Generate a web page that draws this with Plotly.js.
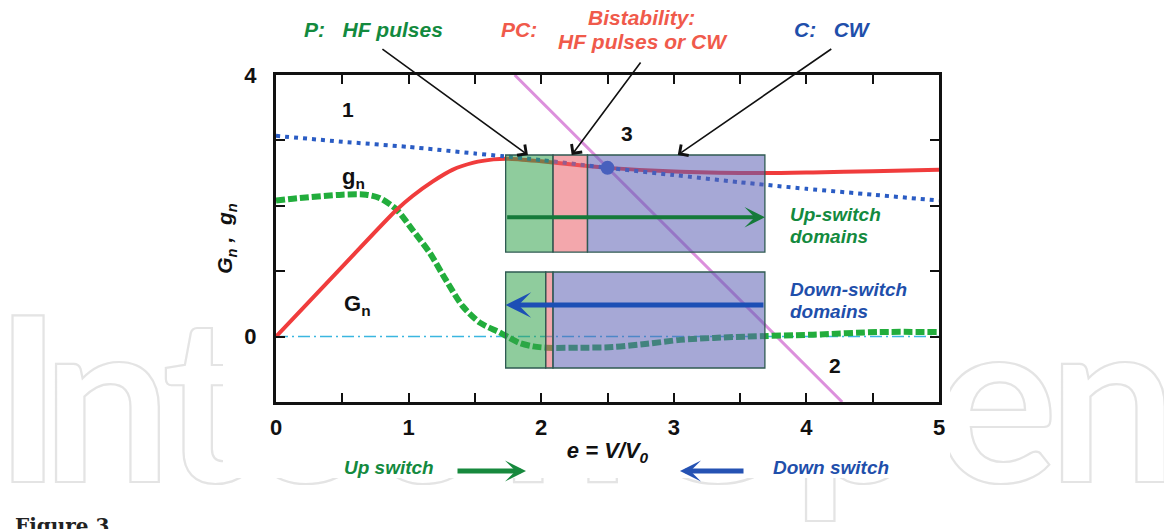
<!DOCTYPE html>
<html>
<head>
<meta charset="utf-8">
<script src="https://cdn.plot.ly/plotly-3.0.1.min.js"></script>
<style>
  html, body { margin: 0; padding: 0; background: #ffffff; overflow: hidden; }
  #wrap { position: relative; width: 1164px; height: 529px; }
  #mark { position: absolute; left: 0; top: 0; }
  #sheet { position: absolute; left: 223px; top: 0; width: 727px; height: 478px; background: #ffffff; }
  #chart { position: absolute; left: 0; top: 0; width: 1164px; height: 529px; }
</style>
</head>
<body>
<div id="wrap">
  <svg id="mark" width="1164" height="529">
    <text x="-6 42 162 240 362 500 625 792 935 1048" y="482" font-family="Lato" font-weight="700" font-size="230"
          fill="none" stroke="#e4e4e4" stroke-width="2.2">IntechOpen</text>
    <text x="15" y="533" font-family="DejaVu Serif" font-weight="700" font-size="20" fill="#222222">Figure 3</text>
  </svg>
  <div id="sheet"></div>
  <div id="chart"></div>
</div>
<script>
// Normalised voltage e = V/V0 and the two conductance curves
const gnX = [0, 0.18, 0.5, 0.68, 0.78, 0.91, 1.03, 1.16, 1.28, 1.41, 1.54, 1.69, 1.76, 1.84, 1.94, 2.04, 2.3, 2.54, 2.8, 3.05, 3.3, 3.55, 4.05, 4.55, 5.0];
const gnY = [2.08, 2.12, 2.17, 2.17, 2.12, 1.94, 1.63, 1.28, 0.87, 0.46, 0.21, 0.06, -0.02, -0.10, -0.15, -0.17, -0.17, -0.16, -0.11, -0.05, -0.02, 0.0, 0.03, 0.07, 0.07];

const GnX = [0, 0.5, 0.91, 1.03, 1.18, 1.33, 1.49, 1.64, 1.75, 2.0, 2.29, 2.5, 3.05, 3.67, 4.05, 4.5, 5.0];
const GnY = [0, 1.07, 1.94, 2.15, 2.37, 2.55, 2.66, 2.71, 2.72, 2.68, 2.62, 2.58, 2.52, 2.50, 2.51, 2.53, 2.55];

// Critical (threshold) curve, dotted blue
const critX = [0, 0.5, 1, 1.5, 1.7, 2.0, 2.5, 3.0, 3.5, 4.0, 4.5, 5.0];
const critY = [3.07, 2.98, 2.90, 2.80, 2.76, 2.70, 2.58, 2.47, 2.36, 2.26, 2.17, 2.08];

// Load line and its operating point
const loadX = [1.80, 4.27];
const loadY = [4.0, -1.0];
const opX = [2.5];
const opY = [2.58];

// Zero reference
const zeroX = [0, 5];
const zeroY = [0, 0];

// Switching domain boxes: edges along e, and vertical extent
const upEdges = [1.732, 2.089, 2.349, 3.687];     // P | PC | C
const upSpan = [1.293, 2.777];
const downEdges = [1.732, 2.034, 2.089, 3.687];   // P | PC | C
const downSpan = [-0.48, 0.988];
const upArrowY = 1.824;
const downArrowY = 0.483;

// Arrow heads pointing at the upper box top (P, PC, C)
const pointerX = [1.90, 2.23, 3.03];

// Axis ticks
const xTickVals = [0, 0.5, 1, 1.5, 2, 2.5, 3, 3.5, 4, 4.5, 5];
const xTickText = ['0', '', '1', '', '2', '', '3', '', '4', '', '5'];
const yTickVals = [-1, 0, 1, 2, 3, 4];
const yTickText = ['', '0', '', '', '', '4'];

// ---- page geometry helpers (pixel -> paper fraction) ----
const W = 1164, H = 529;
const M = { l: 276, r: 225, t: 75, b: 127 };
const PW = W - M.l - M.r, PH = H - M.t - M.b;
const PX = p => (p - M.l) / PW;
const PY = p => (H - M.b - p) / PH;

const FONT = 'Liberation Sans, Arial, sans-serif';
const GREEN_TXT = '#138a3e';
const RED_TXT = '#f05a4b';
const BLUE_TXT = '#1f4fab';

const traces = [
  { x: loadX, y: loadY, mode: 'lines', line: { color: '#dc90dc', width: 3 }, hoverinfo: 'skip' },
  { x: zeroX, y: zeroY, mode: 'lines', line: { color: '#3bb6e0', width: 1.5, dash: '12px,4px,2px,4px' }, hoverinfo: 'skip' },
  { x: gnX, y: gnY, mode: 'lines', line: { color: '#22ad3c', width: 6, dash: '9px,3px', shape: 'spline', smoothing: 0.8 } },
  { x: GnX, y: GnY, mode: 'lines', line: { color: '#f03c3c', width: 4, shape: 'spline', smoothing: 0.8 } },
  { x: critX, y: critY, mode: 'lines', line: { color: '#2a5cc4', width: 4, dash: '4px,5px', shape: 'spline', smoothing: 0.6 } },
  { x: opX, y: opY, mode: 'markers', marker: { color: '#2f5fc8', size: 14 } }
];

// Box segments: green (pulses), pink (bistable), blue (CW)
const fills = ['rgba(51,162,77,0.55)', 'rgba(233,95,104,0.55)', 'rgba(93,97,180,0.55)'];
const shapes = [];
function addBox(edges, span) {
  for (let i = 0; i < 3; i++) {
    shapes.push({
      type: 'rect', xref: 'x', yref: 'y', layer: 'above',
      x0: edges[i], x1: edges[i + 1], y0: span[0], y1: span[1],
      fillcolor: fills[i], line: { color: '#2f5a52', width: 1.3 }
    });
  }
}
addBox(upEdges, upSpan);
addBox(downEdges, downSpan);

const ann = [];
function label(text, xp, yp, opts) {
  ann.push(Object.assign({
    text: text, xref: 'paper', yref: 'paper', x: PX(xp), y: PY(yp),
    xanchor: 'center', yanchor: 'middle', showarrow: false,
    font: { family: FONT, size: 21, color: '#111111', weight: 700 }
  }, opts || {}));
}

// Header labels
label('<i>P:\u00a0\u00a0\u00a0HF pulses</i>', 302, 30, { xanchor: 'left', font: { family: FONT, size: 21, color: GREEN_TXT, weight: 700 } });
label('<i>PC:</i>', 499, 30, { xanchor: 'left', font: { family: FONT, size: 21, color: RED_TXT, weight: 700 } });
label('<i>Bistability:</i>', 641, 18, { font: { family: FONT, size: 21, color: RED_TXT, weight: 700 } });
label('<i>HF pulses or CW</i>', 643, 41, { font: { family: FONT, size: 21, color: RED_TXT, weight: 700 } });
label('<i>C:\u00a0\u00a0\u00a0CW</i>', 792, 30, { xanchor: 'left', font: { family: FONT, size: 21, color: BLUE_TXT, weight: 700 } });

// Region numbers and curve names
label('1', 348, 109);
label('3', 627, 133);
label('2', 835, 365);
label('g<sub>n</sub>', 353, 178, { font: { family: FONT, size: 22, color: '#111111', weight: 700 } });
label('G<sub>n</sub>', 357, 305, { font: { family: FONT, size: 22, color: '#111111', weight: 700 } });

// Domain captions
label('<i>Up-switch</i>', 788, 214, { xanchor: 'left', font: { family: FONT, size: 19, color: GREEN_TXT, weight: 700 } });
label('<i>domains</i>', 788, 236, { xanchor: 'left', font: { family: FONT, size: 19, color: GREEN_TXT, weight: 700 } });
label('<i>Down-switch</i>', 788, 289, { xanchor: 'left', font: { family: FONT, size: 19, color: BLUE_TXT, weight: 700 } });
label('<i>domains</i>', 788, 311, { xanchor: 'left', font: { family: FONT, size: 19, color: BLUE_TXT, weight: 700 } });

// Footer switch-direction legend
label('<i>Up switch</i>', 389, 467, { font: { family: FONT, size: 19, color: GREEN_TXT, weight: 700 } });
label('<i>Down switch</i>', 831, 467, { font: { family: FONT, size: 19, color: BLUE_TXT, weight: 700 } });
ann.push({ xref: 'paper', yref: 'paper', x: PX(526), y: PY(471), ax: -70, ay: 0, text: '',
  showarrow: true, arrowhead: 3, arrowsize: 0.7, arrowwidth: 5, arrowcolor: '#17893d' });
ann.push({ xref: 'paper', yref: 'paper', x: PX(680), y: PY(471), ax: 65, ay: 0, text: '',
  showarrow: true, arrowhead: 3, arrowsize: 0.7, arrowwidth: 5, arrowcolor: '#2552b3' });

// Arrows inside the domain boxes
ann.push({ xref: 'x', yref: 'y', axref: 'x', ayref: 'y', x: upEdges[3], y: upArrowY, ax: upEdges[0], ay: upArrowY,
  text: '', showarrow: true, arrowhead: 3, arrowsize: 0.85, arrowwidth: 4, arrowcolor: '#157a3a' });
ann.push({ xref: 'x', yref: 'y', axref: 'x', ayref: 'y', x: downEdges[0], y: downArrowY, ax: downEdges[3], ay: downArrowY,
  text: '', showarrow: true, arrowhead: 3, arrowsize: 0.85, arrowwidth: 5, arrowcolor: '#1d4fb5' });

// Pointers from the header labels to the boxes
const pointerOffsets = [[-147, -107], [70, -94], [155, -107]];
pointerX.forEach((px, i) => {
  ann.push({ xref: 'x', yref: 'y', x: px, y: upSpan[1], ax: pointerOffsets[i][0], ay: pointerOffsets[i][1],
    text: '', showarrow: true, arrowhead: 4, arrowsize: 1.6, arrowwidth: 1.6, arrowcolor: '#111111' });
});

const axisCommon = {
  showgrid: false, zeroline: false, showline: true, linecolor: '#111111', linewidth: 3,
  mirror: 'allticks', ticks: 'inside', ticklen: 9, tickwidth: 2, tickcolor: '#111111',
  tickmode: 'array', fixedrange: true,
  tickfont: { family: FONT, size: 22, color: '#111111', weight: 700 }
};

const layout = {
  width: W, height: H,
  margin: M,
  paper_bgcolor: 'rgba(0,0,0,0)',
  plot_bgcolor: '#ffffff',
  showlegend: false,
  xaxis: Object.assign({}, axisCommon, {
    range: [0, 5], tickvals: xTickVals, ticktext: xTickText, ticklabelstandoff: 4,
    title: { text: '<i>e = V/V<sub>0</sub></i>', standoff: 4, font: { family: FONT, size: 22, color: '#111111', weight: 700 } }
  }),
  yaxis: Object.assign({}, axisCommon, {
    range: [-1, 4], tickvals: yTickVals, ticktext: yTickText, ticklabelstandoff: 12,
    title: { text: '<i>G<sub>n</sub> ,  g<sub>n</sub></i>', standoff: 6, font: { family: FONT, size: 21, color: '#111111', weight: 700 } }
  }),
  shapes: shapes,
  annotations: ann
};

Plotly.newPlot('chart', traces, layout, { displayModeBar: false, staticPlot: true });
</script>
</body>
</html>
